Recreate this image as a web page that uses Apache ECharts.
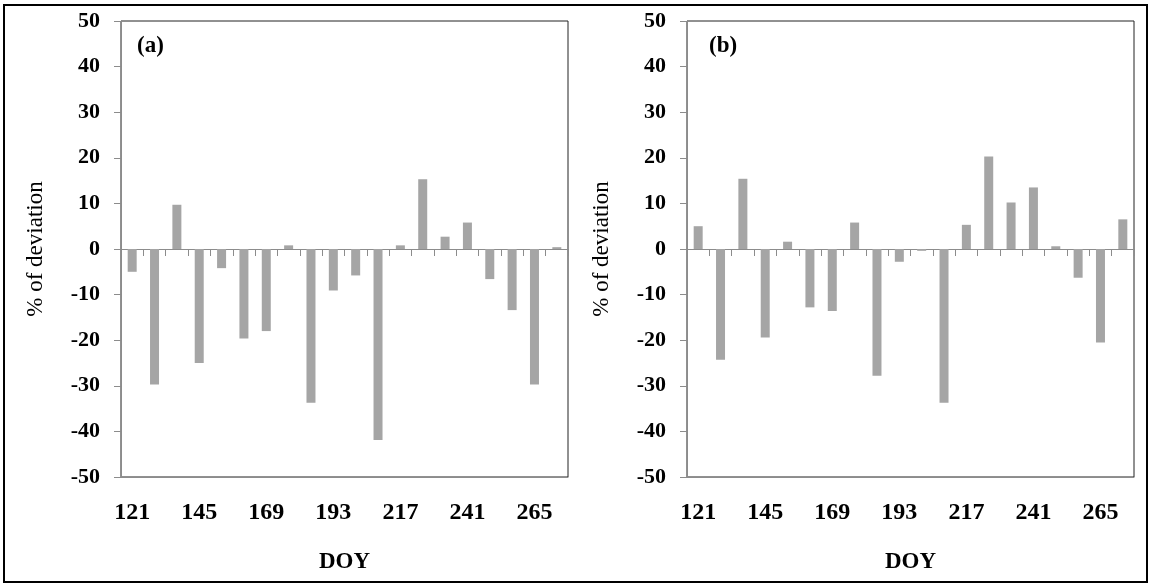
<!DOCTYPE html>
<html>
<head>
<meta charset="utf-8">
<script src="https://cdn.jsdelivr.net/npm/echarts@6/dist/echarts.min.js"></script>
<style>
html,body{margin:0;padding:0;background:#fff;}
#chart{width:1151px;height:587px;}
</style>
</head>
<body>
<div id="chart"></div>
<script>
// Categories: day of year (8-day steps)
const doy = ['121','129','137','145','153','161','169','177','185','193','201','209','217','225','233','241','249','257','265','273'];
// Panel (a) % of deviation
const devA = [-5.0,-29.7,9.7,-25.0,-4.2,-19.6,-18.0,0.8,-33.7,-9.1,-5.8,-41.9,0.8,15.3,2.7,5.8,-6.6,-13.4,-29.7,0.4];
// Panel (b) % of deviation
const devB = [5.0,-24.3,15.4,-19.4,1.6,-12.8,-13.6,5.8,-27.8,-2.8,-0.4,-33.7,5.3,20.3,10.2,13.5,0.6,-6.3,-20.5,6.5];
const panelTitles = ['(a)','(b)'];
const yName = '% of deviation';
const xName = 'DOY';

const serif = '"Liberation Serif","Times New Roman",serif';
const grids = [
  {left:121, right:583, top:21, bottom:110},
  {left:687, right:17, top:21, bottom:110}
];

const xAxes = [], yAxes = [], series = [];
[devA, devB].forEach((vals, i) => {
  // zero-line axis with ticks
  xAxes.push({
    type:'category', data:doy, gridIndex:i, boundaryGap:true,
    axisLine:{show:true, onZero:true, lineStyle:{color:'#8c8c8c', width:1}},
    axisTick:{show:true, interval:0, length:7, lineStyle:{color:'#8c8c8c'}},
    axisLabel:{show:false}, splitLine:{show:false}
  });
  // bottom label axis
  xAxes.push({
    type:'category', data:doy, gridIndex:i, position:'bottom', boundaryGap:true,
    axisLine:{show:true, onZero:false, lineStyle:{color:'#8c8c8c'}},
    axisTick:{show:false},
    axisLabel:{show:true, interval:2, margin:24, color:'#000', fontFamily:serif, fontWeight:'bold', fontSize:24},
    name:xName, nameLocation:'middle', nameGap:74,
    nameTextStyle:{color:'#000', fontFamily:serif, fontWeight:'bold', fontSize:23}
  });
  yAxes.push({
    type:'value', gridIndex:i, min:-50, max:50, interval:10,
    axisLine:{show:true, lineStyle:{color:'#8c8c8c'}},
    axisTick:{show:true, length:7, lineStyle:{color:'#8c8c8c'}},
    axisLabel:{color:'#000', fontFamily:serif, fontWeight:'bold', fontSize:22, margin:21},
    splitLine:{show:false},
    name:yName, nameLocation:'middle', nameRotate:90, nameGap:74,
    nameTextStyle:{color:'#000', fontFamily:serif, fontSize:23}
  });
  series.push({
    type:'bar', xAxisIndex:i*2, yAxisIndex:i, data:vals, barWidth:9,
    itemStyle:{color:'#a5a5a5'}, silent:true
  });
});

const chart = echarts.init(document.getElementById('chart'), null, {renderer:'canvas'});
chart.setOption({
  animation:false,
  backgroundColor:'#fff',
  grid: grids.map(g => Object.assign({show:true, borderColor:'#222', borderWidth:1, backgroundColor:'transparent'}, g)),
  title:[
    {text:panelTitles[0], left:137, top:35, padding:0, textStyle:{fontFamily:serif, fontWeight:'bold', fontSize:23, color:'#000'}},
    {text:panelTitles[1], left:709, top:35, padding:0, textStyle:{fontFamily:serif, fontWeight:'bold', fontSize:23, color:'#000'}}
  ],
  xAxis:xAxes,
  yAxis:yAxes,
  series:series,
  graphic:[{type:'rect', shape:{x:4, y:5, width:1143, height:577}, style:{fill:'none', stroke:'#000', lineWidth:2}, silent:true}]
});
</script>
</body>
</html>
